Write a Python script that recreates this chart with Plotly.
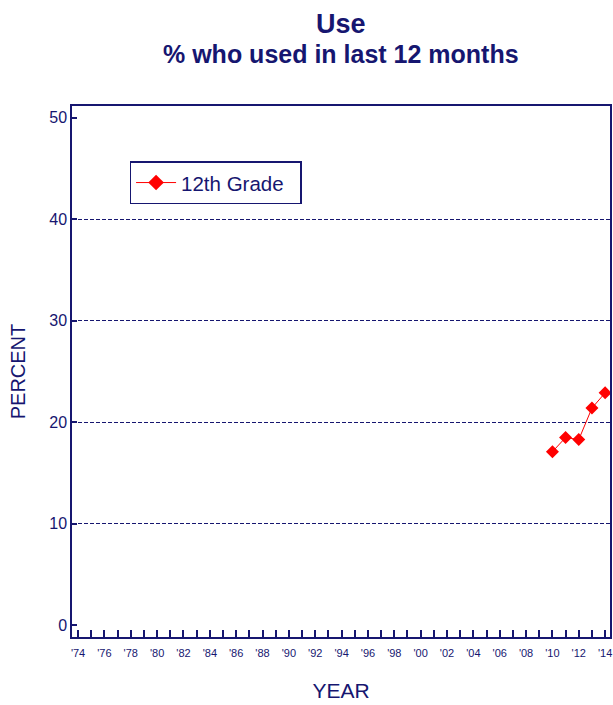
import plotly.graph_objects as go

years = [2010, 2011, 2012, 2013, 2014]
grade12 = [17.1, 18.5, 18.3, 21.4, 22.9]

tick_years = list(range(1974, 2015))
tick_labels = ["'%02d" % (y % 100) if (y - 1974) % 2 == 0 else "" for y in tick_years]
y_ticks = [0, 10, 20, 30, 40, 50]
grid_vals = [10, 20, 30, 40]

NAVY = "#161670"
FONT = "Liberation Sans, Arial, sans-serif"

fig = go.Figure()
fig.add_trace(go.Scatter(
    x=years, y=grade12, mode="lines+markers", name="12th Grade",
    line=dict(color="#ff0000", width=1),
    marker=dict(symbol="diamond", size=10, color="#ff0000"),
    showlegend=False,
))
# legend entry (larger symbol as in reference)
fig.add_trace(go.Scatter(
    x=[None], y=[None], mode="lines+markers", name="12th Grade&nbsp;&nbsp;",
    line=dict(color="#ff0000", width=1),
    marker=dict(symbol="diamond", size=12, color="#ff0000"),
))
# invisible trace on overlay axis for gridlines
fig.add_trace(go.Scatter(x=[years[0]], y=[grid_vals[0]], yaxis="y2", mode="markers",
                         marker=dict(opacity=0), showlegend=False, hoverinfo="skip"))

fig.update_layout(
    width=613, height=705,
    margin=dict(l=72, r=3, t=106, b=68, autoexpand=False),
    paper_bgcolor="white", plot_bgcolor="white",
    font=dict(family=FONT, color=NAVY),
    showlegend=True,
    legend=dict(x=0.107, y=0.896, xanchor="left", yanchor="top",
                bordercolor=NAVY, borderwidth=1.5, bgcolor="white",
                itemwidth=40,
                font=dict(size=20.5, color=NAVY, family=FONT)),
    xaxis=dict(range=[1973.54, 2014.37], tickvals=tick_years, ticktext=tick_labels,
               ticks="inside", ticklen=7, tickcolor=NAVY, tickwidth=1.5,
               tickfont=dict(size=11, color=NAVY), ticklabelstandoff=5,
               showline=True, linecolor=NAVY, linewidth=1.5, mirror=True,
               showgrid=False, zeroline=False,
               title=dict(text="YEAR", font=dict(size=21, color=NAVY), standoff=25)),
    yaxis=dict(range=[-1.15, 51.16], tickvals=y_ticks,
               ticks="inside", ticklen=5, tickcolor=NAVY, tickwidth=1.5,
               tickfont=dict(size=16, color=NAVY),
               showline=True, linecolor=NAVY, linewidth=1.5, mirror=True,
               showgrid=False, zeroline=False,
               title=dict(text="PERCENT", font=dict(size=20, color=NAVY), standoff=18)),
    yaxis2=dict(range=[-1.15, 51.16], overlaying="y", tickvals=grid_vals,
                showticklabels=False, ticks="", showgrid=True, gridcolor=NAVY,
                gridwidth=1, griddash="4px,2px", zeroline=False, showline=False),
    annotations=[
        dict(text="<b>Use</b>", xref="paper", yref="paper", x=0.5, y=1.154,
             xanchor="center", yanchor="middle", showarrow=False,
             font=dict(size=27, color=NAVY, family=FONT)),
        dict(text="<b>% who used in last 12 months</b>", xref="paper", yref="paper",
             x=0.5, y=1.097, xanchor="center", yanchor="middle", showarrow=False,
             font=dict(size=25, color=NAVY, family=FONT)),
    ],
)

fig.write_html("out.html", config={"displayModeBar": False},
               post_script="document.body.style.margin='0';document.body.style.overflow='hidden';")
